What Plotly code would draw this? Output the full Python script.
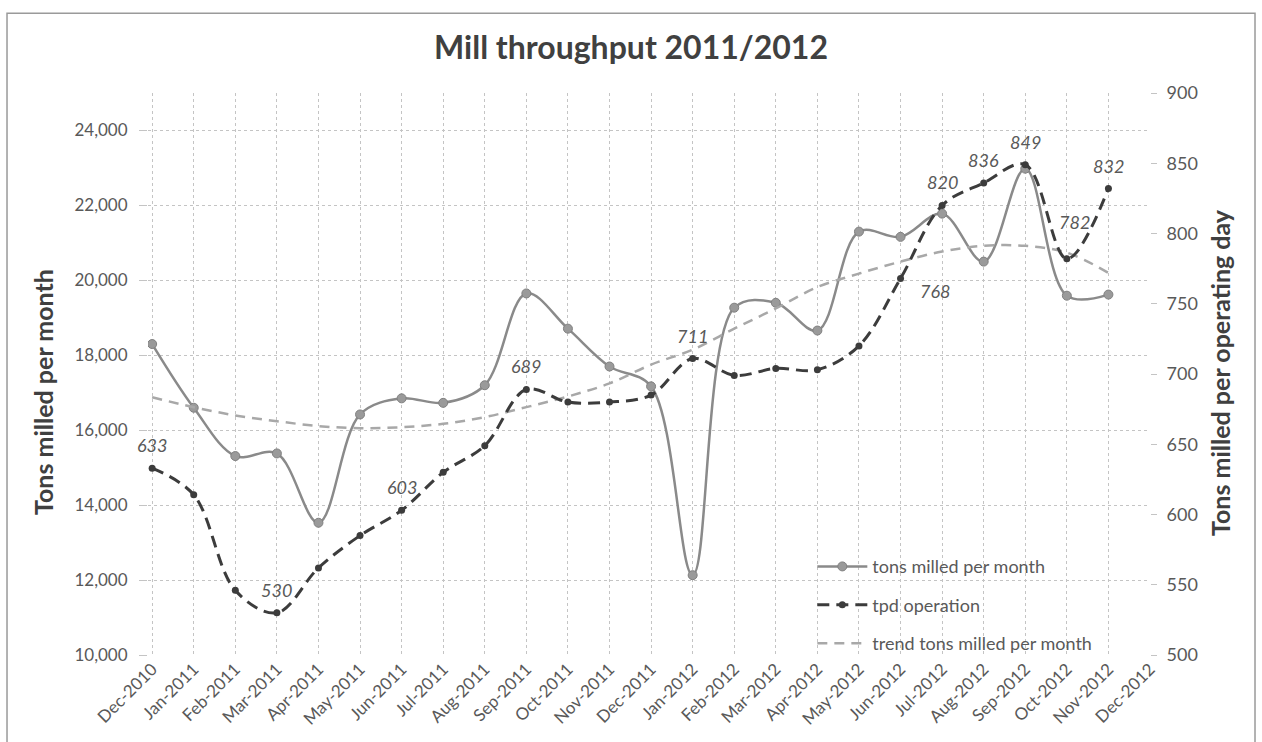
import plotly.graph_objects as go

months = ["Dec-2010", "Jan-2011", "Feb-2011", "Mar-2011", "Apr-2011", "May-2011",
          "Jun-2011", "Jul-2011", "Aug-2011", "Sep-2011", "Oct-2011", "Nov-2011",
          "Dec-2011", "Jan-2012", "Feb-2012", "Mar-2012", "Apr-2012", "May-2012",
          "Jun-2012", "Jul-2012", "Aug-2012", "Sep-2012", "Oct-2012", "Nov-2012",
          "Dec-2012"]

tons_milled = [18300, 16600, 15310, 15380, 13530, 16420, 16850, 16730, 17200, 19650,
               18710, 17700, 17170, 12130, 19270, 19400, 18660, 21300, 21160, 21780,
               20500, 22980, 19590, 19620]

tpd_operation = [633, 614, 546, 530, 562, 585, 603, 630, 649, 689,
                 680, 680, 685, 711, 699, 704, 703, 720, 768, 820,
                 836, 849, 782, 832]

trend_tons = [16880, 16615, 16395, 16240, 16110, 16055, 16080, 16170, 16350, 16615,
              16900, 17250, 17750, 18150, 18710, 19250, 19820, 20180, 20500, 20770,
              20920, 20920, 20740, 20200]

labelled_points = [0, 3, 6, 9, 13, 18, 19, 20, 21, 22, 23]

left_ticks = [10000, 12000, 14000, 16000, 18000, 20000, 22000, 24000]
right_ticks = [500, 550, 600, 650, 700, 750, 800, 850, 900]

x_idx = list(range(len(tons_milled)))
tick_idx = list(range(len(months)))

FONT = "Lato"
TXT = "#595959"
GRID = "#c4c4c4"

fig = go.Figure()

fig.add_trace(go.Scatter(
    x=x_idx, y=tons_milled, name="tons milled per month", yaxis="y",
    mode="lines+markers", line=dict(color="#8a8a8a", width=2.5, shape="spline", smoothing=1.0),
    marker=dict(symbol="circle", size=9, color="#9a9a9a", line=dict(color="#808080", width=1)),
    legendgroup="a"))

fig.add_trace(go.Scatter(
    x=x_idx, y=tpd_operation, name="tpd operation", yaxis="y2",
    mode="lines+markers", line=dict(color="#3c3c3c", width=3, dash="12px,7px", shape="spline", smoothing=1.0),
    marker=dict(symbol="circle", size=7, color="#3c3c3c"),
    legendgroup="b"))

fig.add_trace(go.Scatter(
    x=x_idx, y=trend_tons, name="trend tons milled per month", yaxis="y",
    mode="lines", line=dict(color="#a8a8a8", width=2.5, dash="10px,7px", shape="spline", smoothing=1.0),
    legendgroup="c"))

label_shift = {18: (34, -13), 22: (8, 37)}
for i in labelled_points:
    xs, ys = label_shift.get(i, (0, 23))
    fig.add_annotation(x=i, y=tpd_operation[i], xref="x", yref="y2", text=str(tpd_operation[i]),
                       showarrow=False, xshift=xs, yshift=ys,
                       font=dict(family=FONT, size=18, color=TXT, style="italic"))

# axis titles placed as in the reference
fig.add_annotation(x=(43 - 148) / 1002, y=(655 - 392) / 562, xref="paper", yref="paper",
                   text="<b>Tons milled per month</b>", textangle=-90, showarrow=False,
                   xanchor="center", yanchor="middle",
                   font=dict(family=FONT, size=25, color="#404040"))
fig.add_annotation(x=(1220 - 148) / 1002, y=(655 - 373) / 562, xref="paper", yref="paper",
                   text="<b>Tons milled per operating day</b>", textangle=-90, showarrow=False,
                   xanchor="center", yanchor="middle",
                   font=dict(family=FONT, size=25, color="#404040"))

# chart border
fig.add_shape(type="rect", xref="paper", yref="paper", x0=-0.1407, x1=1.1048, y0=-0.2, y1=1.142,
              line=dict(color="#9a9a9a", width=1.5))

fig.update_layout(
    width=1262, height=742,
    margin=dict(l=148, r=112, t=93, b=87),
    paper_bgcolor="white", plot_bgcolor="white",
    title=dict(text="<b>Mill throughput 2011/2012</b>", x=0.5, xref="container", xanchor="center",
               y=1 - 48 / 742, yref="container", yanchor="middle",
               font=dict(family=FONT, size=32, color="#404040")),
    font=dict(family=FONT, color=TXT, size=16),
    showlegend=True,
    legend=dict(x=0.663, y=0.19, xanchor="left", yanchor="top", bgcolor="rgba(0,0,0,0)",
                font=dict(family=FONT, size=18, color=TXT), tracegroupgap=12,
                traceorder="grouped", itemwidth=50),
    xaxis=dict(range=[-0.1, 24.0], tickmode="array", tickvals=tick_idx, ticktext=months,
               tickangle=-45, showgrid=True, gridcolor=GRID, griddash="dot", gridwidth=1,
               zeroline=False, showline=False, ticks="", tickfont=dict(size=17, color=TXT)),
    yaxis=dict(range=[10000, 25000], tickmode="array", tickvals=left_ticks,
               ticktext=[f"{v:,}" for v in left_ticks],
               showgrid=True, gridcolor=GRID, griddash="dot", gridwidth=1,
               zeroline=False, showline=False, ticks="outside", ticklen=8, tickcolor=GRID,
               ticklabelstandoff=8, tickfont=dict(size=17, color=TXT)),
    yaxis2=dict(range=[500, 900], overlaying="y", side="right", tickmode="array", tickvals=right_ticks,
                showgrid=False, zeroline=False, showline=False, ticks="outside", ticklen=6,
                tickcolor=GRID, ticklabelstandoff=6, tickfont=dict(size=18, color=TXT)),
)

fig.write_html("out.html")
